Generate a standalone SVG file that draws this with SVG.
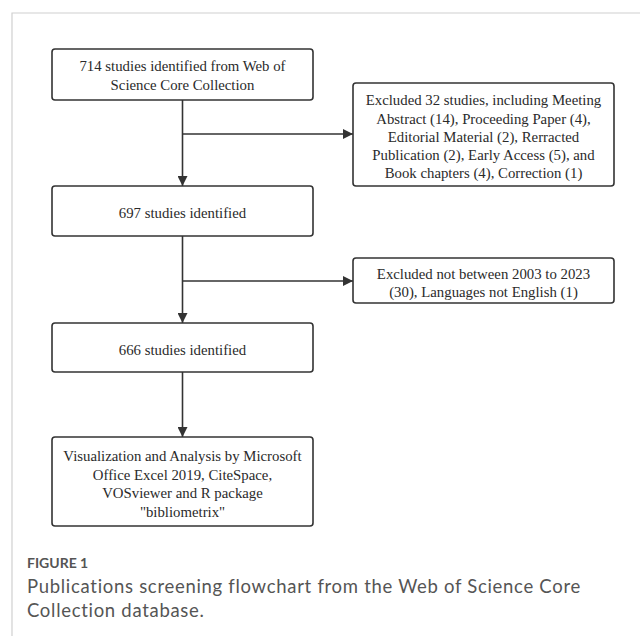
<svg xmlns="http://www.w3.org/2000/svg" width="640" height="636" viewBox="0 0 640 636">
<style>
.box{fill:#fff;stroke:#333;stroke-width:1.6}
.t{font-family:"Liberation Serif","Times New Roman",serif;font-size:14.8px;fill:#2a2a2a;text-anchor:middle}
.c{stroke:#333;stroke-width:1.6;fill:none}
.cap{font-family:Lato,"Open Sans",sans-serif;fill:#555}
</style>
<defs>
<marker id="ah" viewBox="0 0 10 10" refX="10" refY="5" markerWidth="10" markerHeight="10" markerUnits="userSpaceOnUse" orient="auto">
<path d="M0,0 L10,5 L0,10 z" fill="#333"/>
</marker>
</defs>
<rect width="640" height="636" fill="#fff"/>
<path d="M12,636 V13 H640" fill="none" stroke="#d0d0d0" stroke-width="1.2"/>
<g id="connectors">
<path class="c" d="M182.5,100 V186" marker-end="url(#ah)"/>
<path class="c" d="M182.5,134 H353" marker-end="url(#ah)"/>
<path class="c" d="M182.5,236 V323" marker-end="url(#ah)"/>
<path class="c" d="M182.5,281 H353" marker-end="url(#ah)"/>
<path class="c" d="M182.5,372 V437" marker-end="url(#ah)"/>
</g>
<g id="n1">
<rect class="box" x="52" y="49" width="261" height="51" rx="3"/>
<text class="t" x="182.5" y="71">714 studies identified from Web of</text>
<text class="t" x="182.5" y="90">Science Core Collection</text>
</g>
<g id="n2">
<rect class="box" x="353" y="83" width="261" height="103" rx="3"/>
<text class="t" x="483.5" y="105">Excluded 32 studies, including Meeting</text>
<text class="t" x="483.5" y="124">Abstract (14), Proceeding Paper (4),</text>
<text class="t" x="483.5" y="142">Editorial Material (2), Rerracted</text>
<text class="t" x="483.5" y="160">Publication (2), Early Access (5), and</text>
<text class="t" x="483.5" y="178">Book chapters (4), Correction (1)</text>
</g>
<g id="n3">
<rect class="box" x="52" y="186" width="261" height="50" rx="3"/>
<text class="t" x="182.5" y="218">697 studies identified</text>
</g>
<g id="n4">
<rect class="box" x="353" y="258" width="261" height="45" rx="3"/>
<text class="t" x="483.5" y="279">Excluded not between 2003 to 2023</text>
<text class="t" x="483.5" y="297">(30), Languages not English (1)</text>
</g>
<g id="n5">
<rect class="box" x="52" y="323" width="261" height="49" rx="3"/>
<text class="t" x="182.5" y="355">666 studies identified</text>
</g>
<g id="n6">
<rect class="box" x="52" y="437" width="261" height="89" rx="3"/>
<text class="t" x="182.5" y="461">Visualization and Analysis by Microsoft</text>
<text class="t" x="182.5" y="480">Office Excel 2019, CiteSpace,</text>
<text class="t" x="182.5" y="498">VOSviewer and R package</text>
<text class="t" x="182.5" y="517">"bibliometrix"</text>
</g>
<text class="cap" x="27" y="568" font-size="14" font-weight="bold" fill="#666">FIGURE 1</text>
<text class="cap" x="27" y="593" font-size="18.5" letter-spacing="0.7">Publications screening flowchart from the Web of Science Core</text>
<text class="cap" x="27" y="617" font-size="18.5" letter-spacing="0.7">Collection database.</text>
</svg>
